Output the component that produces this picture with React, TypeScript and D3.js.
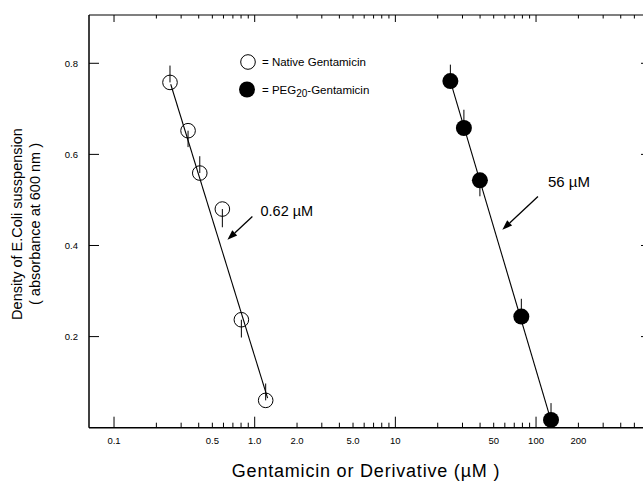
import React from 'react';
import * as d3 from 'd3';

// native gentamicin (open circles)
const nativeX = [0.25, 0.336, 0.407, 0.589, 0.804, 1.197];
const nativeY = [0.758, 0.652, 0.559, 0.48, 0.237, 0.06];
const nativeErrUp = [0.037, 0, 0.037, 0, 0, 0.037];
const nativeErrDown = [0, 0.036, 0, 0.04, 0.039, 0];

// PEG20-gentamicin (filled circles)
const pegX = [24.6, 30.7, 39.9, 78.6, 127.8];
const pegY = [0.761, 0.658, 0.543, 0.244, 0.017];
const pegErrUp = [0.036, 0.04, 0, 0.039, 0.037];
const pegErrDown = [0, 0, 0.035, 0, 0];

// fitted lines (endpoints in data units)
const nativeFit = [[0.253, 0.754], [1.235, 0.065]];
const pegFit = [[24.6, 0.761], [126, 0.022]];

// annotations: [fromX, fromY, tipX, tipY]
const arrowNative = [0.963, 0.4637, 0.64, 0.4125];
const arrowPeg = [103.2, 0.5077, 57.6, 0.4345];
const labelNative = { x: 1.1, y: 0.465, text: '0.62 µM' };
const labelPeg = { x: 121.5, y: 0.528, text: '56 µM' };

const xTickValues = [0.1, 0.5, 1, 2, 5, 10, 50, 100, 200];
const xTickLabels = ['0.1', '0.5', '1.0', '2.0', '5.0', '10', '50', '100', '200'];
const yTickValues = [0.2, 0.4, 0.6, 0.8];
const yTickLabels = ['0.2', '0.4', '0.6', '0.8'];

const W = 643;
const H = 485;
const font = 'Liberation Sans, Arial, Helvetica, sans-serif';

export default function App() {
  const x = d3.scaleLog().domain([0.0664, 595]).range([89, 645]);
  const y = d3.scaleLinear().domain([0, 0.906]).range([427.7, 15]);

  const [x0, x1] = x.range();
  const [y0, y1] = y.range();

  // all 1..9 log ticks from 0.1 up to the right edge
  const allTicks = x.ticks().filter(t => t >= 0.1 && t <= 595);
  const isMajor = (t: number) => Math.abs(Math.log10(t) - Math.round(Math.log10(t))) < 1e-6;

  const line = d3.line<number[]>().x(d => x(d[0])).y(d => y(d[1]));

  const arrow = (a: number[]) => {
    const fx = x(a[0]), fy = y(a[1]), tx = x(a[2]), ty = y(a[3]);
    const ang = Math.atan2(ty - fy, tx - fx);
    const len = 10, half = 3.6;
    const bx = tx - len * Math.cos(ang), by = ty - len * Math.sin(ang);
    const p1 = [bx + half * Math.sin(ang), by - half * Math.cos(ang)];
    const p2 = [bx - half * Math.sin(ang), by + half * Math.cos(ang)];
    return (
      <g>
        <line x1={fx} y1={fy} x2={bx} y2={by} stroke="#000" strokeWidth={1.3} />
        <path d={`M${tx},${ty}L${p1[0]},${p1[1]}L${p2[0]},${p2[1]}Z`} fill="#000" />
      </g>
    );
  };

  const errBars = (xs: number[], ys: number[], up: number[], down: number[]) =>
    xs.map((v, i) => (
      <g key={i}>
        {up[i] > 0 && (
          <line x1={x(v)} x2={x(v)} y1={y(ys[i])} y2={y(ys[i] + up[i])} stroke="#000" strokeWidth={1} />
        )}
        {down[i] > 0 && (
          <line x1={x(v)} x2={x(v)} y1={y(ys[i])} y2={y(ys[i] - down[i])} stroke="#000" strokeWidth={1} />
        )}
      </g>
    ));

  return (
    <svg width={W} height={H} style={{ position: 'absolute', left: 0, top: 0, background: '#fff' }}
      fontFamily={font}>
      <rect width={W} height={H} fill="#fff" />

      {/* frame */}
      <line x1={x0} x2={x1} y1={y0} y2={y0} stroke="#000" strokeWidth={1.5} />
      <line x1={x0} x2={x1} y1={y1} y2={y1} stroke="#000" strokeWidth={1.2} />
      <line x1={x0} x2={x0} y1={y0} y2={y1} stroke="#000" strokeWidth={1.5} />
      <line x1={x1} x2={x1} y1={y0} y2={y1} stroke="#000" strokeWidth={1.2} />

      {/* x ticks, bottom and top */}
      {allTicks.map((t, i) => (
        <g key={i}>
          <line x1={x(t)} x2={x(t)} y1={y0} y2={y0 - (isMajor(t) ? 11 : 5)} stroke="#000" strokeWidth={1} />
          <line x1={x(t)} x2={x(t)} y1={y1} y2={y1 + (isMajor(t) ? 7 : 3.5)} stroke="#000" strokeWidth={1} />
        </g>
      ))}
      {xTickValues.map((t, i) => (
        <text key={i} x={x(t)} y={y0 + 16} fontSize={9.5} textAnchor="middle">{xTickLabels[i]}</text>
      ))}

      {/* y ticks, left and right */}
      {yTickValues.map((t, i) => (
        <g key={i}>
          <line x1={x0} x2={x0 + 10} y1={y(t)} y2={y(t)} stroke="#000" strokeWidth={1} />
          <line x1={x1} x2={x1 - 4} y1={y(t)} y2={y(t)} stroke="#000" strokeWidth={1} />
          <text x={x0 - 11} y={y(t) + 3.3} fontSize={9.5} textAnchor="end">{yTickLabels[i]}</text>
        </g>
      ))}

      {/* axis titles */}
      <text x={366} y={477} fontSize={18} letterSpacing={0.8} textAnchor="middle">Gentamicin or Derivative (µM )</text>
      <g transform="translate(22,224) rotate(-90)">
        <text x={0} y={0} fontSize={14.5} textAnchor="middle">Density of E.Coli susspension</text>
        <text x={0} y={18} fontSize={14.5} textAnchor="middle">( absorbance at 600 nm )</text>
      </g>

      {/* fit lines */}
      <path d={line(nativeFit) || ''} fill="none" stroke="#000" strokeWidth={1.1} />
      <path d={line(pegFit) || ''} fill="none" stroke="#000" strokeWidth={1.1} />

      {/* error bars */}
      {errBars(nativeX, nativeY, nativeErrUp, nativeErrDown)}
      {errBars(pegX, pegY, pegErrUp, pegErrDown)}

      {/* points */}
      {nativeX.map((v, i) => (
        <circle key={i} cx={x(v)} cy={y(nativeY[i])} r={7.3} fill="none" stroke="#000" strokeWidth={1} />
      ))}
      {pegX.map((v, i) => (
        <circle key={i} cx={x(v)} cy={y(pegY[i])} r={8} fill="#000" />
      ))}

      {/* annotations */}
      {arrow(arrowNative)}
      {arrow(arrowPeg)}
      <text x={x(labelNative.x)} y={y(labelNative.y)} fontSize={14.5}>{labelNative.text}</text>
      <text x={x(labelPeg.x)} y={y(labelPeg.y)} fontSize={15}>{labelPeg.text}</text>

      {/* legend */}
      <circle cx={248} cy={62} r={7.3} fill="none" stroke="#000" strokeWidth={1} />
      <text x={262} y={66} fontSize={11.5}>= Native Gentamicin</text>
      <circle cx={247} cy={89.5} r={8} fill="#000" />
      <text x={262} y={93.5} fontSize={11.5}>
        = PEG<tspan dy={3.5} fontSize={10}>20</tspan><tspan dy={-3.5}>-Gentamicin</tspan>
      </text>
    </svg>
  );
}
